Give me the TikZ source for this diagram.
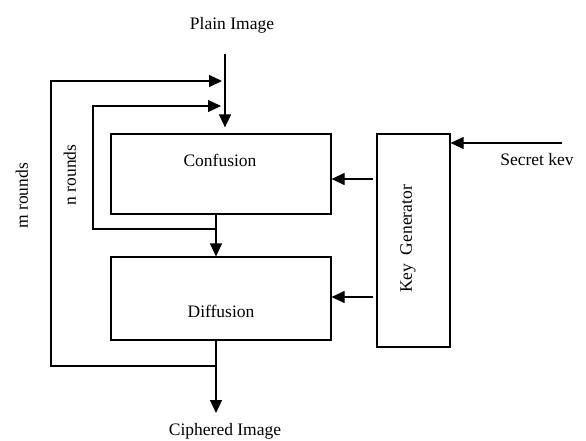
\documentclass[tikz,border=0pt]{standalone}
\usepackage{fontspec}
\setmainfont{Liberation Serif}
\usetikzlibrary{arrows.meta,positioning,calc}

\begin{document}
\begin{tikzpicture}[
  x=1pt, y=-1pt,
  font=\fontsize{17.5}{20}\selectfont,
  >={Triangle[length=13pt,width=12pt]},
  block/.style={rectangle, draw, line width=1.2pt, inner sep=0pt},
  flow/.style={->, line width=1.2pt},
  txt/.style={inner sep=0pt, anchor=base},
  vtxt/.style={inner sep=0pt, rotate=90},
]
\useasboundingbox (0,0) rectangle (586,441);

% ---- cipher blocks ----
\node[block, minimum width=220pt, minimum height=80pt] (conf) at (221,174) {};
\node[block, minimum width=220pt, minimum height=83pt] (diff) at (221,298.5) {};
\node[block, minimum width=73pt, minimum height=213pt] (keygen) at (413.5,240.5) {};

\node[txt] (conftxt) at (220,166) {Confusion};
\node[txt] (difftxt) at (221,317) {Diffusion};
\node[vtxt] (keytxt) at (408,239) {Key\ \ Generator};

% ---- inputs / outputs ----
\node[txt] (plain) at (232,30) {Plain Image};
\node[txt] (cipher) at (225,435.5) {Ciphered Image};
\node[txt] (secret) at (537,165) {Secret kev};

% ---- round counters ----
\node[vtxt] (mrounds) at (22,196) {m rounds};
\node[vtxt] (nrounds) at (70,175) {n rounds};

% ---- taps and entry points ----
\coordinate (pin) at (225,54);
\coordinate (kin) at (562,143);
\coordinate (nfb) at (216,229);
\coordinate (mfb) at (216,366);
\coordinate (nret) at (221,106);
\coordinate (mret) at (222,81);
\coordinate (cout) at (216,413);
\coordinate (ck) at ($(conf.east)+(0,5)$);
\coordinate (dk) at ($(diff.east)+(0,-1.5)$);

% ---- main flow ----
\draw[flow, shorten >=6pt] (pin) -- (pin |- conf.north);
\draw[flow] ([xshift=-5pt]conf.south) -- ([xshift=-5pt]diff.north);
\draw[flow] ([xshift=-5pt]diff.south) -- (cout);

% ---- feedback loops ----
\draw[flow] (nfb) -- ++(-123,0) |- (nret);
\draw[flow] (mfb) -- ++(-165,0) |- (mret);

% ---- key schedule ----
\draw[flow] (kin) -- (kin -| keygen.east);
\draw[flow, shorten <=3pt] (ck -| keygen.west) -- (ck);
\draw[flow, shorten <=3pt] (dk -| keygen.west) -- (dk);
\end{tikzpicture}
\end{document}
